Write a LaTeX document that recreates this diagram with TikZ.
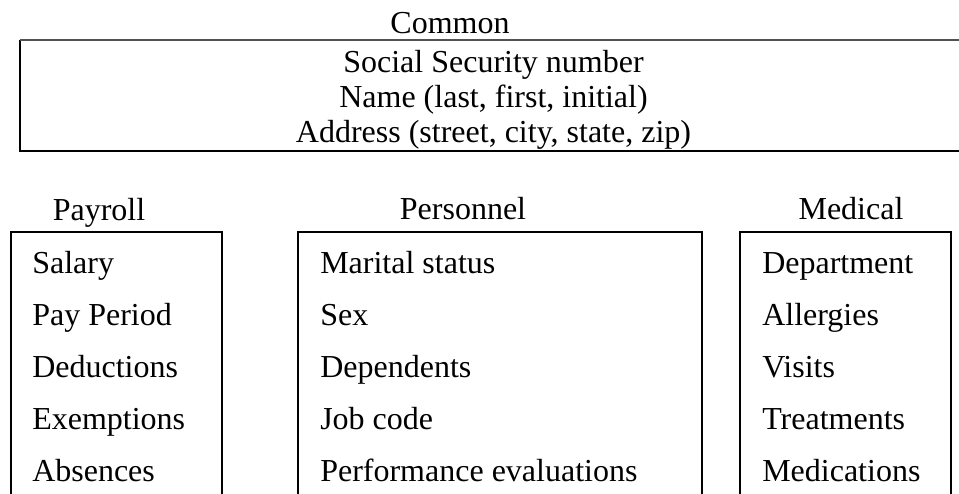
\documentclass[tikz,border=0pt]{standalone}
\usepackage{fontspec}
\setmainfont{Liberation Serif}
\begin{document}
\begin{tikzpicture}[x=0.75pt,y=-0.75pt,
  txt/.style={inner sep=0pt,font=\fontsize{24}{28}\selectfont},
  item/.style={txt,anchor=base west},
  head/.style={txt,anchor=base},
  boxline/.style={draw=black,line width=1.1pt},
  topline/.style={draw=black!68,line width=1.6pt}]
\useasboundingbox (0,0) rectangle (959,493);
\clip (0,0) rectangle (959,493);

% Common record block (runs past the right edge)
\draw[boxline] (970,151) -- (20,151) -- (20,40);
\draw[topline] (20,40) -- (970,40);
\node[head] (common) at (450,33) {Common};
\node[head] (ssn)  at (493.5,72)  {Social Security number};
\node[head] (name) at (493.5,107) {Name (last, first, initial)};
\node[head] (addr) at (493.5,142) {Address (street, city, state, zip)};

% Three department boxes, open at the bottom
\draw[boxline] (11,500) -- (11,232) -- (222,232) -- (222,500);
\draw[boxline] (298,500) -- (298,232) -- (702,232) -- (702,500);
\draw[boxline] (740,500) -- (740,232) -- (951,232) -- (951,500);

\node[head] (payroll)   at (99,220)  {Payroll};
\node[head] (personnel) at (463,219) {Personnel};
\node[head] (medical)   at (851,219) {Medical};

% Payroll fields
\node[item] (p1) at (32,273) {Salary};
\node[item] (p2) at (32,325) {Pay Period};
\node[item] (p3) at (32,377) {Deductions};
\node[item] (p4) at (32,429) {Exemptions};
\node[item] (p5) at (32,481) {Absences};

% Personnel fields
\node[item] (r1) at (320,273) {Marital status};
\node[item] (r2) at (320,325) {Sex};
\node[item] (r3) at (320,377) {Dependents};
\node[item] (r4) at (320,429) {Job code};
\node[item] (r5) at (320,481) {Performance evaluations};

% Medical fields
\node[item] (m1) at (762,273) {Department};
\node[item] (m2) at (762,325) {Allergies};
\node[item] (m3) at (762,377) {Visits};
\node[item] (m4) at (762,429) {Treatments};
\node[item] (m5) at (762,481) {Medications};
\end{tikzpicture}
\end{document}
